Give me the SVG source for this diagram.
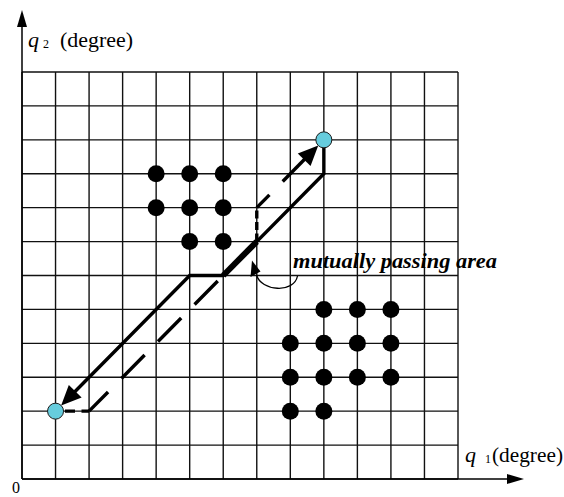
<svg xmlns="http://www.w3.org/2000/svg" width="564" height="497" viewBox="0 0 564 497">
<style>
.grid{fill:none;stroke:#111;stroke-width:1.4}
.axis{fill:none;stroke:#000;stroke-width:1.5}
.dot{fill:#000}
.endpt{fill:#66CCDD;stroke:#1a1a1a;stroke-width:1}
.solid{fill:none;stroke:#000;stroke-width:3.4;stroke-linejoin:miter}
.dash{fill:none;stroke:#000;stroke-width:3.4}
.thin{fill:none;stroke:#000;stroke-width:1.3}
.lbl{font-family:"Liberation Serif","Times New Roman",serif;font-size:22px;fill:#000}
.it{font-style:italic}
.sub{font-size:12px}
.note{font-family:"Liberation Serif","Times New Roman",serif;font-size:22px;font-weight:bold;font-style:italic;fill:#000}
</style>
<defs>
<marker id="arr" viewBox="0 -9 20 18" refX="2" refY="0" markerWidth="20" markerHeight="18" markerUnits="userSpaceOnUse" orient="auto" overflow="visible">
<path d="M0,-9 L20,0 L0,9 z" fill="#000"/>
</marker>
<marker id="axarr" viewBox="0 -5 17 10" refX="0" refY="0" markerWidth="17" markerHeight="10" markerUnits="userSpaceOnUse" orient="auto" overflow="visible">
<path d="M0,-5 L17,0 L0,5 z" fill="#000"/>
</marker>
</defs>
<rect width="564" height="497" fill="#fff"/>
<g id="grid">
<path class="grid" d="M22,72V479M55.54,72V479M89.08,72V479M122.62,72V479M156.15,72V479M189.69,72V479M223.23,72V479M256.77,72V479M290.31,72V479M323.85,72V479M357.38,72V479M390.92,72V479M424.46,72V479M458,72V479
M22,72H458M22,105.92H458M22,139.83H458M22,173.75H458M22,207.67H458M22,241.58H458M22,275.5H458M22,309.42H458M22,343.33H458M22,377.25H458M22,411.17H458M22,445.08H458M22,479H458"/>
</g>
<g id="axes">
<path class="axis" d="M22,479V27" marker-end="url(#axarr)"/>
<path class="axis" d="M22,479H507" marker-end="url(#axarr)"/>
</g>
<g id="obstacle1">
<circle class="dot" cx="156.15" cy="173.75" r="8.5"/>
<circle class="dot" cx="189.69" cy="173.75" r="8.5"/>
<circle class="dot" cx="223.23" cy="173.75" r="8.5"/>
<circle class="dot" cx="156.15" cy="207.67" r="8.5"/>
<circle class="dot" cx="189.69" cy="207.67" r="8.5"/>
<circle class="dot" cx="223.23" cy="207.67" r="8.5"/>
<circle class="dot" cx="189.69" cy="241.58" r="8.5"/>
<circle class="dot" cx="223.23" cy="241.58" r="8.5"/>
</g>
<g id="obstacle2">
<circle class="dot" cx="323.85" cy="309.42" r="8.5"/>
<circle class="dot" cx="357.38" cy="309.42" r="8.5"/>
<circle class="dot" cx="390.92" cy="309.42" r="8.5"/>
<circle class="dot" cx="290.31" cy="343.33" r="8.5"/>
<circle class="dot" cx="323.85" cy="343.33" r="8.5"/>
<circle class="dot" cx="357.38" cy="343.33" r="8.5"/>
<circle class="dot" cx="390.92" cy="343.33" r="8.5"/>
<circle class="dot" cx="290.31" cy="377.25" r="8.5"/>
<circle class="dot" cx="323.85" cy="377.25" r="8.5"/>
<circle class="dot" cx="357.38" cy="377.25" r="8.5"/>
<circle class="dot" cx="390.92" cy="377.25" r="8.5"/>
<circle class="dot" cx="290.31" cy="411.17" r="8.5"/>
<circle class="dot" cx="323.85" cy="411.17" r="8.5"/>
</g>
<g id="connectors">
<path class="solid" d="M323.85,147.8 L323.85,173.75 L223.23,275.5 L189.69,275.5 L73.82,392.68" marker-end="url(#arr)"/>
<path fill="none" stroke="#000" stroke-width="6" d="M223.23,275.5 L256.77,241.58"/>
<path class="dash" d="M65,411.17 H75 M81.5,411.17 H89.08"/>
<path class="dash" d="M89.08,411.17 L223.23,275.5" stroke-dasharray="33 19" stroke-dashoffset="6"/>
<path class="dash" d="M256.77,241.58 V207.67" stroke-dasharray="8 3.5"/>
<path class="dash" d="M256.77,207.67 L269.42,194.87"/>
<path class="dash" d="M282.7,181.43 L305.58,158.32" marker-end="url(#arr)"/>
<path class="thin" d="M256.5,275 C261,291 294,294 297.5,276"/>
<polygon points="252,260.5 250.5,277 260.5,271.5" fill="#000"/>
</g>
<g id="start">
<circle class="endpt" cx="55.54" cy="411.17" r="8"/>
</g>
<g id="goal">
<circle class="endpt" cx="323.85" cy="139.83" r="8"/>
</g>
<g id="labels">
<text class="lbl it" x="28" y="47">q</text>
<text class="lbl sub" x="43" y="48">2</text>
<text class="lbl" x="60" y="47" textLength="73" lengthAdjust="spacingAndGlyphs">(degree)</text>
<text class="lbl it" x="465" y="462">q</text>
<text class="lbl sub" x="485" y="463">1</text>
<text class="lbl" x="492" y="462" textLength="71" lengthAdjust="spacingAndGlyphs">(degree)</text>
<text class="note" x="293" y="267.5" textLength="204" lengthAdjust="spacingAndGlyphs">mutually passing area</text>
<text class="lbl" x="12" y="492.5" style="font-size:16px">0</text>
</g>
</svg>
